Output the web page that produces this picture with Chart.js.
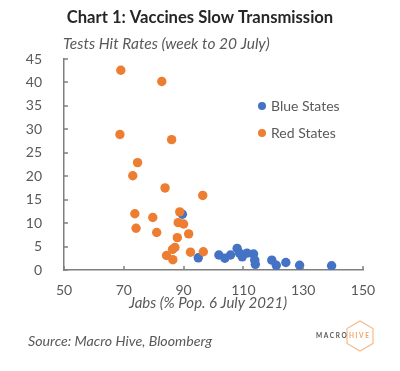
<!DOCTYPE html>
<html><head><meta charset="utf-8">
<script src="https://cdn.jsdelivr.net/npm/chart.js@4/dist/chart.umd.min.js"></script>
<style>html,body{margin:0;padding:0;background:#fff;}#wrap{position:relative;width:400px;height:371px;}</style>
</head><body><div id="wrap"><canvas id="c" width="400" height="371"></canvas></div>
<script>
const titleText = "Chart 1: Vaccines Slow Transmission";
const subtitleText = "Tests Hit Rates (week to 20 July)";
const xTitleText = "Jabs (% Pop. 6 July 2021)";
const sourceText = "Source: Macro Hive, Bloomberg";
const seriesNames = ["Blue States", "Red States"];
const xTicks = [50, 70, 90, 110, 130, 150];
const yTicks = [0, 5, 10, 15, 20, 25, 30, 35, 40, 45];

const blueX = [89.6, 94.9, 101.8, 103.8, 105.7, 107.9, 108.7, 109.6, 111.2, 113.4, 113.8, 114.0, 119.5, 121.0, 124.2, 128.8, 139.5];
const blueY = [11.9, 2.6, 3.2, 2.5, 3.2, 4.6, 3.6, 2.8, 3.6, 3.4, 2.1, 1.2, 2.1, 1.0, 1.6, 1.0, 0.9];
const redX = [69.0, 82.7, 68.7, 86.0, 74.6, 73.0, 83.8, 96.4, 73.7, 88.7, 79.7, 88.2, 90.0, 74.1, 81.0, 91.7, 87.9, 87.1, 86.3, 84.3, 86.4, 92.3, 96.6];
const redY = [42.6, 40.2, 28.9, 27.8, 22.9, 20.1, 17.5, 15.9, 12.0, 12.4, 11.2, 10.1, 9.8, 8.9, 8.0, 7.7, 6.9, 4.8, 4.4, 3.1, 2.2, 3.8, 3.9];

const BLUE = "#4472C4", ORANGE = "#ED7D31", GREY = "#595959", AXIS = "#7f7f7f";
const FONT = "Lato, 'Open Sans', sans-serif";
const pts = (xs, ys) => xs.map((x, i) => ({x: x, y: ys[i]}));

const decor = {
  id: 'decor',
  afterDraw(chart) {
    const ctx = chart.ctx, xs = chart.scales.x, ys = chart.scales.y;
    ctx.save();
    ctx.strokeStyle = AXIS; ctx.lineWidth = 1.5;
    yTicks.forEach(v => { const py = Math.round(ys.getPixelForValue(v)); ctx.beginPath(); ctx.moveTo(xs.left, py); ctx.lineTo(xs.left + 4, py); ctx.stroke(); });
    xTicks.forEach(v => { const px = Math.round(xs.getPixelForValue(v)); ctx.beginPath(); ctx.moveTo(px, ys.bottom); ctx.lineTo(px, ys.bottom - 4); ctx.stroke(); });
    ctx.fillStyle = "#262626"; ctx.textBaseline = "middle";
    ctx.font = "bold 16.6px " + FONT; ctx.textAlign = "center";
    ctx.fillText(titleText, 200, 18);
    ctx.fillStyle = GREY; ctx.font = "italic 15.5px " + FONT; ctx.textAlign = "left";
    ctx.fillText(subtitleText, 63, 44);
    ctx.font = "italic 15px " + FONT; ctx.textAlign = "center";
    ctx.fillText(xTitleText, 208, 303);
    ctx.font = "italic 14.2px " + FONT; ctx.textAlign = "left";
    ctx.fillText(sourceText, 28, 341);
    const cols = [BLUE, ORANGE], ly = [106, 133];
    seriesNames.forEach((n, i) => {
      ctx.fillStyle = cols[i]; ctx.beginPath(); ctx.arc(262, ly[i], 4, 0, Math.PI * 2); ctx.fill();
      ctx.fillStyle = GREY; ctx.font = "14px " + FONT; ctx.fillText(n, 271, ly[i]);
    });
    const cx = 360, cy = 336, r = 15;
    ctx.strokeStyle = "#f6b989"; ctx.lineWidth = 1.2; ctx.beginPath();
    for (let k = 0; k < 6; k++) { const a = Math.PI / 3 * k + Math.PI / 6; const px = cx + r * Math.cos(a), py = cy + r * Math.sin(a); k ? ctx.lineTo(px, py) : ctx.moveTo(px, py); }
    ctx.closePath(); ctx.stroke();
    ctx.font = "bold 6.5px " + FONT; ctx.textAlign = "left";
    ctx.fillStyle = "#555"; ctx.fillText("M A C R O", 316, 336);
    ctx.fillStyle = "#f3a266"; ctx.fillText("H I V E", 349, 336);
    ctx.restore();
  }
};

new Chart(document.getElementById('c'), {
  type: 'scatter',
  data: {
    datasets: [
      {label: seriesNames[0], data: pts(blueX, blueY), backgroundColor: BLUE, borderColor: BLUE, pointRadius: 4.7, borderWidth: 0, order: 1},
      {label: seriesNames[1], data: pts(redX, redY), backgroundColor: ORANGE, borderColor: ORANGE, pointRadius: 4.7, borderWidth: 0, order: 0}
    ]
  },
  options: {
    responsive: false, animation: false,
    layout: {padding: {left: 0, right: 37, top: 59, bottom: 0}},
    plugins: {legend: {display: false}, tooltip: {enabled: false}},
    scales: {
      x: {
        type: 'linear', min: 50, max: 150,
        afterBuildTicks: s => { s.ticks = xTicks.map(v => ({value: v})); },
        afterFit: s => { s.height = 101; },
        grid: {display: false},
        border: {display: true, color: AXIS, width: 1.5},
        ticks: {color: GREY, font: {family: FONT, size: 14}, padding: 4, maxRotation: 0, autoSkip: false}
      },
      y: {
        min: 0, max: 45,
        afterBuildTicks: s => { s.ticks = yTicks.map(v => ({value: v})); },
        afterFit: s => { s.width = 64; },
        grid: {display: false},
        border: {display: true, color: AXIS, width: 1.5},
        ticks: {color: GREY, font: {family: FONT, size: 14}, padding: 14}
      }
    }
  },
  plugins: [decor]
});
</script></body></html>
